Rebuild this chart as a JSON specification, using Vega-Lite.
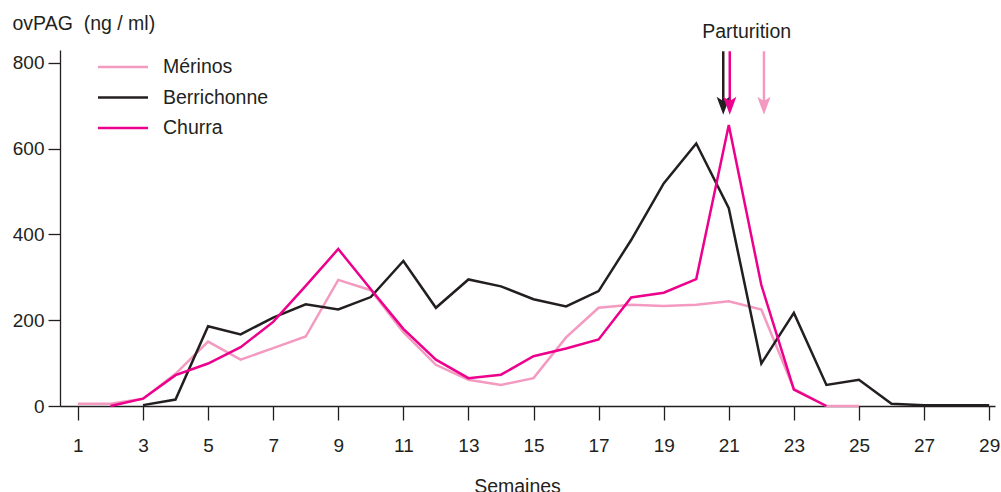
{
  "$schema": "https://vega.github.io/schema/vega-lite/v6.json",
  "width": 935,
  "height": 356,
  "autosize": {"type": "none"},
  "padding": {"left": 60, "top": 50, "right": 6, "bottom": 86},
  "background": "white",
  "config": {"view": {"stroke": null}, "font": "Liberation Sans"},
  "datasets": {
    "series": [
      {"breed": "Mérinos", "week": 1, "value": 5},
      {"breed": "Mérinos", "week": 2, "value": 5},
      {"breed": "Mérinos", "week": 3, "value": 17},
      {"breed": "Mérinos", "week": 4, "value": 75},
      {"breed": "Mérinos", "week": 5, "value": 150},
      {"breed": "Mérinos", "week": 6, "value": 108},
      {"breed": "Mérinos", "week": 7, "value": 135},
      {"breed": "Mérinos", "week": 8, "value": 162},
      {"breed": "Mérinos", "week": 9, "value": 294},
      {"breed": "Mérinos", "week": 10, "value": 270},
      {"breed": "Mérinos", "week": 11, "value": 172},
      {"breed": "Mérinos", "week": 12, "value": 96},
      {"breed": "Mérinos", "week": 13, "value": 61},
      {"breed": "Mérinos", "week": 14, "value": 49},
      {"breed": "Mérinos", "week": 15, "value": 65},
      {"breed": "Mérinos", "week": 16, "value": 160},
      {"breed": "Mérinos", "week": 17, "value": 229},
      {"breed": "Mérinos", "week": 18, "value": 236},
      {"breed": "Mérinos", "week": 19, "value": 233},
      {"breed": "Mérinos", "week": 20, "value": 236},
      {"breed": "Mérinos", "week": 21, "value": 244},
      {"breed": "Mérinos", "week": 22, "value": 225},
      {"breed": "Mérinos", "week": 23, "value": 40},
      {"breed": "Mérinos", "week": 24, "value": 0},
      {"breed": "Mérinos", "week": 25, "value": 0},
      {"breed": "Berrichonne", "week": 3, "value": 2},
      {"breed": "Berrichonne", "week": 4, "value": 15},
      {"breed": "Berrichonne", "week": 5, "value": 186},
      {"breed": "Berrichonne", "week": 6, "value": 167},
      {"breed": "Berrichonne", "week": 7, "value": 206},
      {"breed": "Berrichonne", "week": 8, "value": 237},
      {"breed": "Berrichonne", "week": 9, "value": 225},
      {"breed": "Berrichonne", "week": 10, "value": 254},
      {"breed": "Berrichonne", "week": 11, "value": 338},
      {"breed": "Berrichonne", "week": 12, "value": 229},
      {"breed": "Berrichonne", "week": 13, "value": 295},
      {"breed": "Berrichonne", "week": 14, "value": 279},
      {"breed": "Berrichonne", "week": 15, "value": 249},
      {"breed": "Berrichonne", "week": 16, "value": 232},
      {"breed": "Berrichonne", "week": 17, "value": 268},
      {"breed": "Berrichonne", "week": 18, "value": 387},
      {"breed": "Berrichonne", "week": 19, "value": 519},
      {"breed": "Berrichonne", "week": 20, "value": 612},
      {"breed": "Berrichonne", "week": 21, "value": 461},
      {"breed": "Berrichonne", "week": 22, "value": 99},
      {"breed": "Berrichonne", "week": 23, "value": 217},
      {"breed": "Berrichonne", "week": 24, "value": 49},
      {"breed": "Berrichonne", "week": 25, "value": 61},
      {"breed": "Berrichonne", "week": 26, "value": 5},
      {"breed": "Berrichonne", "week": 27, "value": 2},
      {"breed": "Berrichonne", "week": 28, "value": 2},
      {"breed": "Berrichonne", "week": 29, "value": 2},
      {"breed": "Churra", "week": 2, "value": 0},
      {"breed": "Churra", "week": 3, "value": 17},
      {"breed": "Churra", "week": 4, "value": 72},
      {"breed": "Churra", "week": 5, "value": 99},
      {"breed": "Churra", "week": 6, "value": 137},
      {"breed": "Churra", "week": 7, "value": 196},
      {"breed": "Churra", "week": 8, "value": 280},
      {"breed": "Churra", "week": 9, "value": 366},
      {"breed": "Churra", "week": 10, "value": 272},
      {"breed": "Churra", "week": 11, "value": 180},
      {"breed": "Churra", "week": 12, "value": 108},
      {"breed": "Churra", "week": 13, "value": 65},
      {"breed": "Churra", "week": 14, "value": 73},
      {"breed": "Churra", "week": 15, "value": 116},
      {"breed": "Churra", "week": 16, "value": 134},
      {"breed": "Churra", "week": 17, "value": 155},
      {"breed": "Churra", "week": 18, "value": 253},
      {"breed": "Churra", "week": 19, "value": 264},
      {"breed": "Churra", "week": 20, "value": 296},
      {"breed": "Churra", "week": 21, "value": 655},
      {"breed": "Churra", "week": 22, "value": 282},
      {"breed": "Churra", "week": 23, "value": 38},
      {"breed": "Churra", "week": 24, "value": 0}
    ],
    "arrows": [
      {"breed": "Mérinos", "week": 22.08, "top": 827, "bottom": 702, "head": 701},
      {"breed": "Berrichonne", "week": 20.83, "top": 827, "bottom": 702, "head": 701},
      {"breed": "Churra", "week": 21.03, "top": 827, "bottom": 702, "head": 701}
    ],
    "label": [
      {"week": 21.55, "value": 873, "text": "Parturition"}
    ]
  },
  "layer": [
    {
      "data": {"name": "series"},
      "mark": {"type": "line", "strokeWidth": 2.5, "strokeJoin": "miter"},
      "encoding": {
        "x": {
          "field": "week",
          "type": "quantitative",
          "scale": {"domain": [0.45, 29.18], "nice": false, "zero": false},
          "axis": {
            "values": [1,2,3,4,5,6,7,8,9,10,11,12,13,14,15,16,17,18,19,20,21,22,23,24,25,26,27,28,29],
            "labelExpr": "datum.value % 2 == 1 ? datum.label : ''",
            "grid": false,
            "tickSize": 14,
            "tickWidth": 1.3,
            "tickColor": "#231F20",
            "domainColor": "#231F20",
            "domainWidth": 1.3,
            "labelPadding": 16,
            "labelFontSize": 19,
            "labelColor": "#231F20",
            "labelFlush": false,
            "labelOverlap": false,
            "title": "Semaines",
            "titleFontSize": 19.5,
            "titleFontWeight": "normal",
            "titleColor": "#231F20",
            "titleX": 457,
            "titleY": 71,
            "titleBaseline": "top"
          }
        },
        "y": {
          "field": "value",
          "type": "quantitative",
          "scale": {"domain": [0, 830], "nice": false},
          "axis": {
            "values": [0, 200, 400, 600, 800],
            "grid": false,
            "tickSize": 12,
            "tickWidth": 1.3,
            "tickColor": "#231F20",
            "domainColor": "#231F20",
            "domainWidth": 1.3,
            "labelPadding": 4,
            "labelFontSize": 19,
            "labelColor": "#231F20",
            "title": "ovPAG\u00a0 (ng / ml)",
            "titleAngle": 0,
            "titleAlign": "left",
            "titleBaseline": "alphabetic",
            "titleX": -48,
            "titleY": -21,
            "titleFontSize": 19.5,
            "titleFontWeight": "normal",
            "titleColor": "#231F20"
          }
        },
        "color": {
          "field": "breed",
          "type": "nominal",
          "scale": {"domain": ["Mérinos", "Berrichonne", "Churra"], "range": ["#F49AC1", "#231F20", "#EC008C"]},
          "legend": {
            "orient": "none",
            "legendX": 49,
            "legendY": 3,
            "title": null,
            "symbolType": "M-2,0H2",
            "symbolSize": 625,
            "symbolStrokeWidth": 2.5,
            "labelFontSize": 19.5,
            "labelColor": "#231F20",
            "labelOffset": 26,
            "rowPadding": 6.5,
            "padding": 0
          }
        },
        "order": {"field": "week", "type": "quantitative"}
      }
    },
    {
      "data": {"name": "arrows"},
      "mark": {"type": "rule", "strokeWidth": 2.5},
      "encoding": {
        "x": {"field": "week", "type": "quantitative"},
        "y": {"field": "top", "type": "quantitative"},
        "y2": {"field": "bottom"},
        "color": {"field": "breed", "type": "nominal", "legend": null}
      }
    },
    {
      "data": {"name": "arrows"},
      "mark": {"type": "point", "filled": true, "opacity": 1, "strokeWidth": 0, "size": 361, "shape": "M0,1L-0.7,-0.9L0,-0.45L0.7,-0.9Z"},
      "encoding": {
        "x": {"field": "week", "type": "quantitative"},
        "y": {"field": "head", "type": "quantitative"},
        "color": {"field": "breed", "type": "nominal", "legend": null}
      }
    },
    {
      "data": {"name": "label"},
      "mark": {"type": "text", "fontSize": 19.5, "color": "#231F20", "baseline": "middle", "align": "center"},
      "encoding": {
        "x": {"field": "week", "type": "quantitative"},
        "y": {"field": "value", "type": "quantitative"},
        "text": {"field": "text"}
      }
    }
  ]
}
